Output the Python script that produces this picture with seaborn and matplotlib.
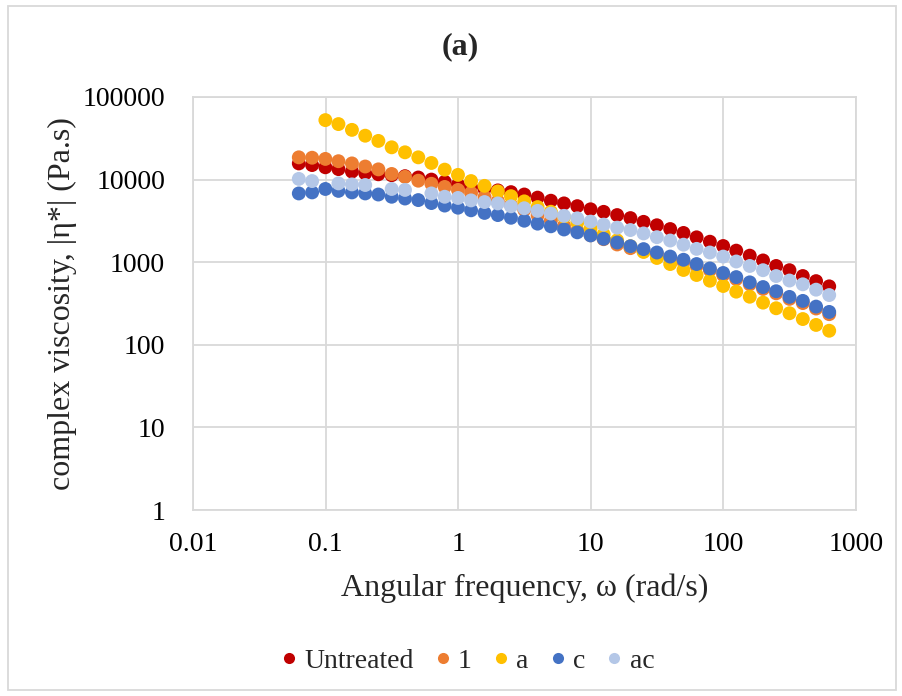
import numpy as np
import pandas as pd
import matplotlib
matplotlib.use("Agg")
import matplotlib.pyplot as plt
import seaborn as sns
from matplotlib.lines import Line2D
from matplotlib.patches import Rectangle

# ── data ──────────────────────────────────────────────────────────────────────
freq = [0.0628, 0.0791, 0.0996, 0.125, 0.158, 0.199, 0.25, 0.315, 0.397, 0.5,
        0.628, 0.791, 0.996, 1.25, 1.58, 1.99, 2.5, 3.15, 3.97, 5.0,
        6.28, 7.91, 9.96, 12.5, 15.8, 19.9, 25.0, 31.5, 39.7, 50.0,
        62.8, 79.1, 99.6, 125, 158, 199, 250, 315, 397, 500, 628]

untreated = [15700, 15000, 14100, 13400, 12500, 11900, 11600, 11300, 11000, 10600,
             10000, 9400, 8700, 8150, 7700, 7400, 7050, 6600, 6050, 5550,
             5150, 4770, 4370, 4070, 3720, 3420, 3080, 2800, 2520, 2260,
             2000, 1770, 1570, 1380, 1200, 1050, 900, 800, 680, 590, 510]

s1 = [18600, 18400, 17800, 16700, 15700, 14400, 13300, 11700, 10800, 9700,
      8900, 8150, 7500, 6900, 6150, 5500, 4900, 4300, 3700, 3200,
      2750, 2400, 2120, 1900, 1640, 1480, 1370, 1250, 1110, 1010,
      900, 800, 700, 625, 540, 475, 420, 360, 320, 275, 235]

sa = [np.nan, np.nan, 52500, 47000, 40000, 34000, 29400, 24600, 21400, 18600,
      15900, 13200, 11400, 9600, 8400, 7200, 6300, 5450, 4650, 4080,
      3540, 3015, 2560, 2170, 1840, 1560, 1330, 1125, 950, 805,
      700, 597, 515, 440, 382, 324, 277, 241, 205, 174, 148]

sc = [6800, 7000, 7700, 7300, 7000, 6800, 6600, 6200, 5900, 5650,
      5200, 4850, 4570, 4250, 3950, 3720, 3450, 3180, 2930, 2720,
      2490, 2300, 2110, 1920, 1730, 1560, 1440, 1310, 1170, 1070,
      950, 840, 740, 660, 570, 500, 445, 380, 340, 290, 250]

sac = [10200, 9600, np.nan, 9000, 8750, 8600, np.nan, 7700, 7500, np.nan,
       6800, 6200, 6000, 5600, 5350, 5150, 4750, 4500, 4180, 3880,
       3640, 3400, 3100, 2850, 2620, 2450, 2230, 2010, 1830, 1630,
       1450, 1310, 1170, 1020, 900, 800, 680, 600, 540, 465, 400]

series_names = ["Untreated", "1", "a", "c", "ac"]
series_vals = [untreated, s1, sa, sc, sac]
colors = ["#C00000", "#ED7D31", "#FFC000", "#4472C4", "#B4C7E7"]

x_ticks = [0.01, 0.1, 1, 10, 100, 1000]
x_ticklabels = ["0.01", "0.1", "1", "10", "100", "1000"]
y_ticks = [1, 10, 100, 1000, 10000, 100000]
y_ticklabels = ["1", "10", "100", "1000", "10000", "100000"]

df = pd.concat(
    [pd.DataFrame({"freq": freq, "eta": v, "sample": n})
     for n, v in zip(series_names, series_vals)],
    ignore_index=True,
).dropna()

# ── plot ─────────────────────────────────────────────────────────────────────
sns.set_theme(style="white")
plt.rcParams["font.family"] = ["Liberation Serif", "DejaVu Serif"]

fig = plt.figure(figsize=(9.02, 6.96), dpi=100)
ax = fig.add_axes([193 / 902, 1 - 510 / 696, (856 - 193) / 902, (510 - 97) / 696])

sns.scatterplot(data=df, x="freq", y="eta", hue="sample",
                hue_order=series_names, palette=colors,
                s=100, linewidth=0, alpha=1, legend=False, ax=ax, zorder=3)

ax.set_xscale("log")
ax.set_yscale("log")
ax.set_xlim(0.01, 1000)
ax.set_ylim(1, 100000)
ax.set_xticks(x_ticks)
ax.set_xticklabels(x_ticklabels)
ax.set_yticks(y_ticks)
ax.set_yticklabels(y_ticklabels)
ax.minorticks_off()
ax.tick_params(axis="both", length=0, labelsize=20, colors="black")
ax.tick_params(axis="x", pad=16)
ax.tick_params(axis="y", pad=20)
ax.grid(True, color="#D9D9D9", linewidth=1.3)
for sp in ax.spines.values():
    sp.set_color("#D9D9D9")
    sp.set_linewidth(1.3)

ax.set_xlabel("Angular frequency, ω (rad/s)", fontsize=23, labelpad=12)
ax.set_ylabel("complex viscosity, |η*| (Pa.s)", fontsize=23, labelpad=4)
fig.text(460 / 902, 1 - 47 / 696, "(a)", fontsize=23, fontweight="bold",
         ha="center", va="center")

handles = [Line2D([], [], marker="o", linestyle="", markersize=8,
                  markerfacecolor=c, markeredgewidth=0) for c in colors]
fig.legend(handles, series_names, loc="center", bbox_to_anchor=(0.515, 1 - 661 / 696),
           ncol=5, frameon=False, fontsize=20, handletextpad=0.05,
           columnspacing=0.55, handlelength=1.0)

# chart-area border
fig.add_artist(Rectangle((8 / 902, 6 / 696), 888 / 902, 684 / 696,
                         transform=fig.transFigure, fill=False,
                         edgecolor="#D9D9D9", linewidth=1.3))

fig.savefig("out.png", dpi=100)
